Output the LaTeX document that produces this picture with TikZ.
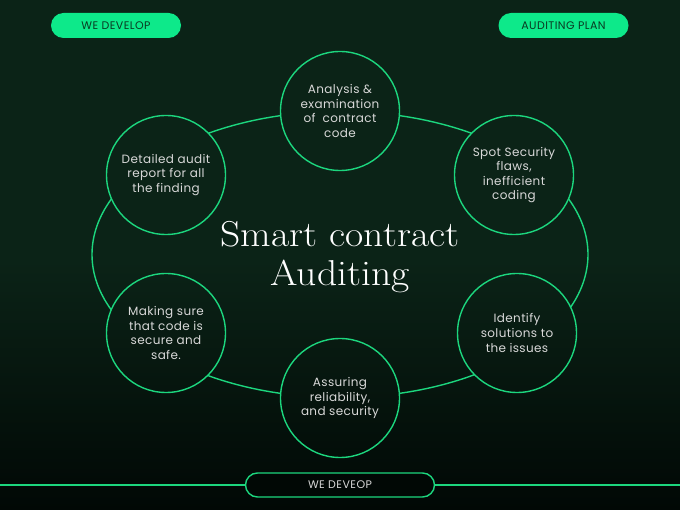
\documentclass[tikz,border=0pt]{standalone}
\usepackage{fontspec}
\newfontfamily\bodyfont[LetterSpace=3]{Poppins}
\newfontfamily\pillfont[LetterSpace=4]{Poppins}
\definecolor{bgtop}{HTML}{0B2317}
\definecolor{bgbot}{HTML}{010805}
\definecolor{linegreen}{HTML}{1CD67E}
\definecolor{pillgreen}{HTML}{0DE98A}
\definecolor{pilltext}{HTML}{0A3A22}
\definecolor{softtext}{HTML}{D8D8D8}
\newcommand{\widetitle}[1]{\scalebox{1.1}[1]{#1}}
\tikzset{
  stepcircle/.style={circle, draw=linegreen, line width=1.4pt, minimum size=119pt, inner sep=0pt,
    align=center, text=softtext, font=\bodyfont\fontsize{12}{14.6}\selectfont},
  toppill/.style={rectangle, rounded corners=12.5pt, fill=pillgreen, minimum width=130pt, minimum height=25pt,
    inner sep=0pt, text=pilltext, font=\pillfont\fontsize{11}{12}\selectfont},
  botpill/.style={rectangle, rounded corners=12pt, draw=linegreen, line width=1.4pt, fill=bgbot,
    minimum width=189pt, minimum height=24pt, inner sep=0pt, text=softtext, font=\pillfont\fontsize{11}{12}\selectfont},
  ringline/.style={draw=linegreen, line width=1.4pt},
  titletext/.style={text=white, align=center, font=\fontsize{36}{39}\selectfont},
}
\begin{document}
\begin{tikzpicture}[x=1pt,y=-1pt]
\useasboundingbox (0,0) rectangle (680,510);
% background
\fill[bgtop] (0,0) rectangle (680,260);
\shade[top color=bgtop, bottom color=bgbot] (0,259.5) rectangle (680,510);
% ring
\draw[ringline] (340,254.5) ellipse [x radius=248, y radius=143];
% mask ring under circles by redrawing background inside circles
\begin{scope}
\clip (340,111) circle (59.5) (514,175) circle (59.5) (166,175) circle (59.5)
      (517,333) circle (59.5) (166,333) circle (59.5) (340,398) circle (59.5);
\fill[bgtop] (0,0) rectangle (680,260);
\shade[top color=bgtop, bottom color=bgbot] (0,259.5) rectangle (680,510);
\end{scope}
% circles
\node[stepcircle] (c1) at (340,111) {Analysis \&\\examination\\of\ \ contract\\code};
\node[stepcircle] (c2) at (514,175) {Spot Security\\flaws,\\inefficient\\coding};
\node[stepcircle] (c3) at (517,333) {Identify\\solutions to\\the issues};
\node[stepcircle] (c4) at (340,398) {Assuring\\reliability,\\and security};
\node[stepcircle] (c5) at (166,333) {Making sure\\that code is\\secure and\\safe.};
\node[stepcircle] (c6) at (166,175) {Detailed audit\\report for all\\the finding};
% title
\node[titletext] (title) at (340,257) {\widetitle{Smart contract}\\\widetitle{Auditing}};
% top pills
\node[toppill] (p1) at (116,25.5) {WE DEVELOP};
\node[toppill] (p2) at (563.5,25.5) {AUDITING PLAN};
% bottom line and pill
\coordinate (lineL) at (0,485);
\coordinate (lineR) at (680,485);
\node[botpill] (p3) at (340,485) {WE DEVEOP};
\draw[ringline] (lineL) -- (p3.west);
\draw[ringline] (p3.east) -- (lineR);
\end{tikzpicture}
\end{document}
